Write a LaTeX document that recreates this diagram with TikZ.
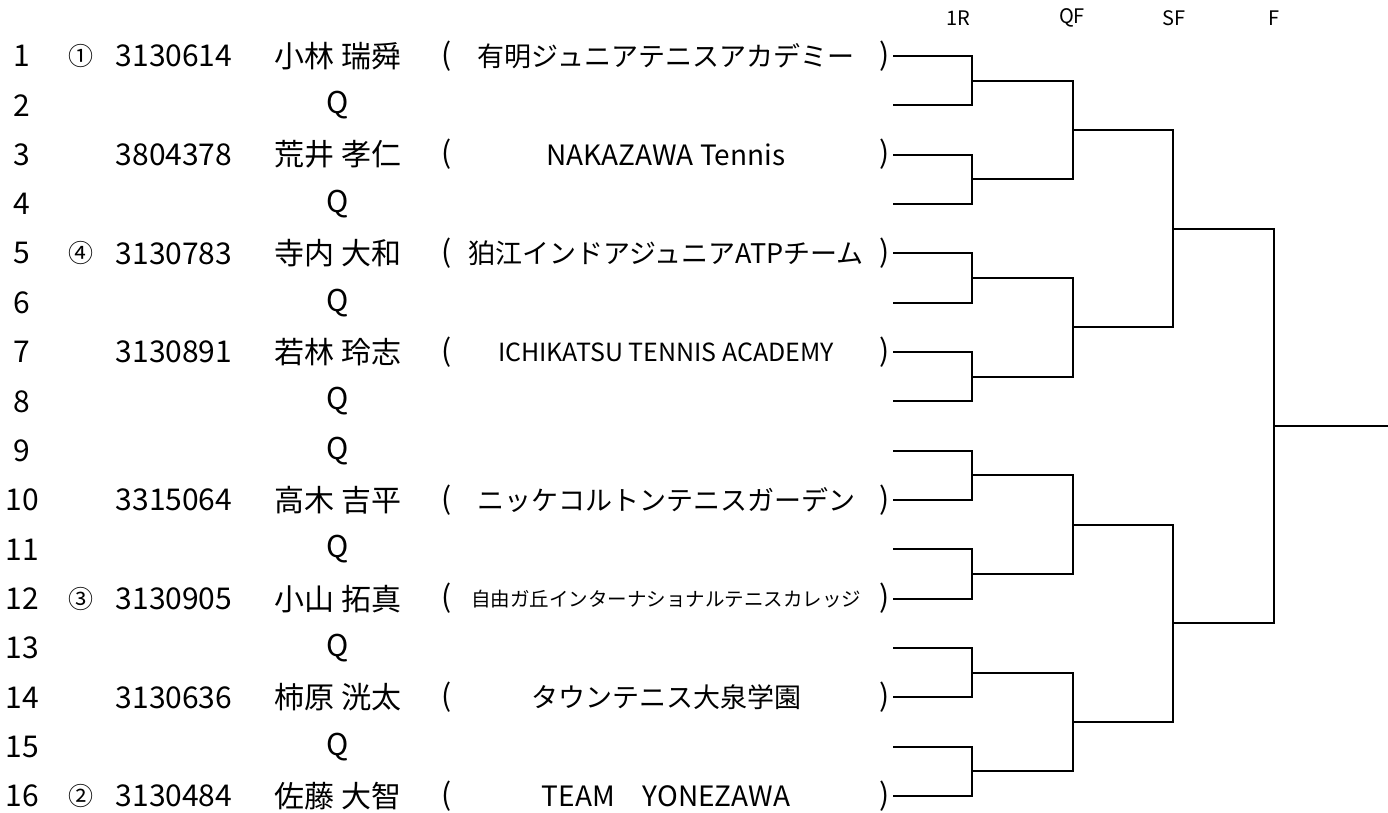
\documentclass[tikz,border=0pt]{standalone}
\usepackage{fontspec}
\setmainfont{Noto Sans CJK JP}

\tikzset{
  entry/.style={font=\fontsize{30}{36}\selectfont, inner sep=0pt},
  seedmark/.style={font=\fontsize{25}{30}\selectfont, inner sep=0pt},
  roundlabel/.style={font=\fontsize{20}{24}\selectfont, inner sep=0pt},
  bracket/.style={line width=2.2pt},
}

\begin{document}
\begin{tikzpicture}[x=1pt, y=-1pt]
  \useasboundingbox (0,0) rectangle (1388,812);
  % columns
  \coordinate (cnum) at (22,0);
  \coordinate (cseed) at (81,0);
  \coordinate (cid) at (174,0);
  \coordinate (cname) at (338,0);
  \coordinate (copen) at (447,0);
  \coordinate (cclub) at (666,0);
  \coordinate (cclose) at (885,0);
  % round titles
  \node[roundlabel] (t1r) at (958,18) {1R};
  \node[roundlabel] (tqf) at (1072,18) {QF};
  \node[roundlabel] (tsf) at (1174,18) {SF};
  \node[roundlabel] (tf)  at (1274,18) {F};
  % rows
  \foreach \i in {1,...,16} {
    \pgfmathsetmacro\rowy{56+(\i-1)*49.33}
    \coordinate (r\i) at (0,\rowy);
    \coordinate (e\i) at (893,\rowy);
    \node[entry] (num\i) at (cnum |- r\i) {\i};
  }
  % qualifiers
  \foreach \i in {2,4,6,8,9,11,13,15}
    \node[entry] (qual\i) at (cname |- r\i) {Q};
  % players
  \foreach \i/\pid/\pname/\team/\sz in {
      1/3130614/小林 瑞舜/有明ジュニアテニスアカデミー/27,
      3/3804378/荒井 孝仁/NAKAZAWA Tennis/28,
      5/3130783/寺内 大和/狛江インドアジュニアATPチーム/27,
      7/3130891/若林 玲志/ICHIKATSU TENNIS ACADEMY/25,
      10/3315064/高木 吉平/ニッケコルトンテニスガーデン/27,
      12/3130905/小山 拓真/自由ガ丘インターナショナルテニスカレッジ/19.5,
      14/3130636/柿原 洸太/タウンテニス大泉学園/27,
      16/3130484/佐藤 大智/TEAM　YONEZAWA/28} {
    \node[entry] (id\i) at (cid |- r\i) {\pid};
    \node[entry] (name\i) at (cname |- r\i) {\pname};
    \node[entry] (open\i) at (copen |- r\i) {(};
    \node[entry, font=\fontsize{\sz}{\sz}\selectfont] (club\i) at (cclub |- r\i) {\team};
    \node[entry] (close\i) at (cclose |- r\i) {)};
  }
  % seeds
  \node[seedmark] (seed1) at (cseed |- r1) {①};
  \node[seedmark] (seed5) at (cseed |- r5) {④};
  \node[seedmark] (seed12) at (cseed |- r12) {③};
  \node[seedmark] (seed16) at (cseed |- r16) {②};
  % bracket points
  \foreach \k in {1,...,8} {
    \pgfmathsetmacro\my{56+(2*\k-1.5)*49.33}
    \coordinate (m\k) at (972,\my);
  }
  \foreach \k in {1,...,4} {
    \pgfmathsetmacro\qy{56+(4*\k-2.5)*49.33}
    \coordinate (qf\k) at (1073,\qy);
  }
  \foreach \k in {1,2} {
    \pgfmathsetmacro\sy{56+(8*\k-4.5)*49.33}
    \coordinate (sf\k) at (1173,\sy);
  }
  \coordinate (fin) at (1274,426);
  \coordinate (win) at (1388,426);
  % bracket lines
  \foreach \k [evaluate=\k as \a using int(2*\k-1), evaluate=\k as \b using int(2*\k)] in {1,...,8}
    \draw[bracket] (e\a) -| (m\k) |- (e\b);
  \foreach \k [evaluate=\k as \a using int(2*\k-1), evaluate=\k as \b using int(2*\k)] in {1,...,4}
    \draw[bracket] (m\a) -| (qf\k) |- (m\b);
  \draw[bracket] (qf1) -| (sf1) |- (qf2);
  \draw[bracket] (qf3) -| (sf2) |- (qf4);
  \draw[bracket] (sf1) -| (fin) |- (sf2);
  \draw[bracket] (fin) -- (win);
\end{tikzpicture}
\end{document}
